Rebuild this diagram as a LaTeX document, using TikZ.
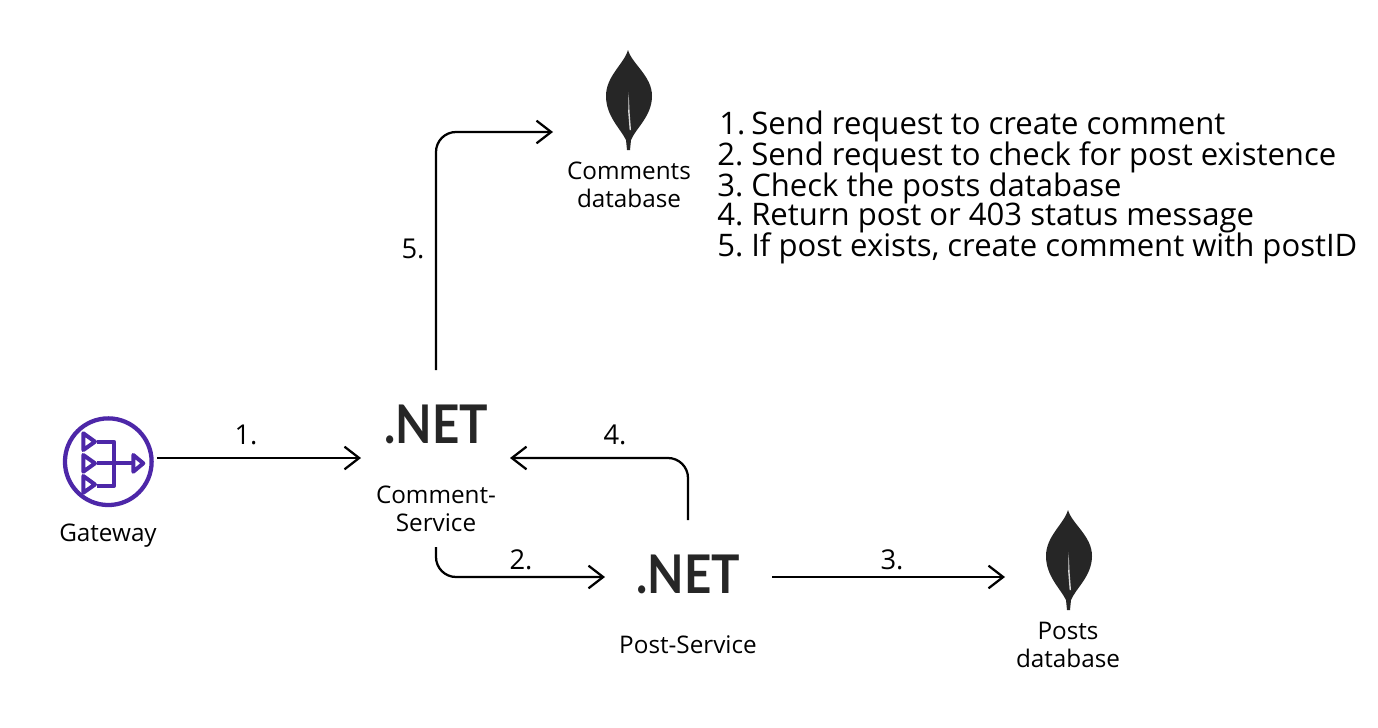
\documentclass[tikz,border=0pt]{standalone}
\usepackage{fontspec}
\usepackage{graphicx}
\setmainfont{Open Sans}
\newfontfamily\netfont{Lato}
\usetikzlibrary{arrows.meta}
\definecolor{gwpurple}{HTML}{4D27A8}
\definecolor{inkdark}{HTML}{262626}
\tikzset{
  x=0.75pt,y=-0.75pt,
  conn/.style={line width=1.7pt,-{Straight Barb[length=11pt,width=17pt,line width=1.7pt]},rounded corners=15pt},
  icon/.style={line width=3pt,gwpurple,line join=round},
  small/.style={font=\fontsize{18.2}{21}\selectfont,align=center,inner sep=0pt},
  step label/.style={font=\fontsize{20.5}{24}\selectfont,inner sep=0pt},
  netlabel/.style={font=\netfont\bfseries\fontsize{40}{40}\selectfont,inkdark,inner sep=0pt,minimum width=77pt,minimum height=32pt},
  pics/leaf/.style={code={
    \fill[inkdark] (0,0) .. controls (4,14) and (24,26) .. (24,46)
       .. controls (24,66) and (8,78) .. (3,90) -- (2,100) -- (-1,100) -- (-2,90)
       .. controls (-8,78) and (-22,66) .. (-22,46)
       .. controls (-22,26) and (-4,14) .. (0,0) -- cycle;
    \fill[white!85!black] (0.6,42) -- (1.6,62) -- (3,80) -- (1.6,80) -- (0.2,62) -- cycle;
  }}
}
\begin{document}
\begin{tikzpicture}
\useasboundingbox (0,0) rectangle (1378,728);
\fill[white] (0,0) rectangle (1378,728);

% gateway
\node[circle,draw=gwpurple,line width=3.2pt,minimum size=65pt,inner sep=0pt] (gw) at (108.3,461.7) {};
\draw[icon] (83.3,433.3) -- (95,441.7) -- (83.3,450) -- cycle;
\draw[icon] (83.3,455) -- (95,463.3) -- (83.3,471.7) -- cycle;
\draw[icon] (83.3,476) -- (95,484.5) -- (83.3,492.7) -- cycle;
\draw[icon] (97.3,441.7) -- (114,441.7) -- (114,486) -- (97.3,486);
\draw[icon] (97.3,463.3) -- (133.3,463.3);
\draw[icon] (133.3,455) -- (143.3,463.3) -- (133.3,471.7) -- cycle;
\node[small] (gwlabel) at (108,536) {Gateway};

% services
\node[netlabel] (cnet) at (436,424) {\scalebox{0.89}[1]{.NET}};
\node[small] (clabel) at (436,509) {Comment-\\Service};
\node[netlabel] (pnet) at (688,574) {\scalebox{0.89}[1]{.NET}};
\node[small] (plabel) at (688,645) {Post-Service};

% databases
\pic (lc) at (628,50) {leaf};
\node[small] (cdb) at (629,185) {Comments\\database};
\pic (lp) at (1068,510) {leaf};
\node[small] (pdb) at (1068,645) {Posts\\database};
\coordinate (cdbin) at (553,132);
\coordinate (pdbin) at (1005,577);

% connectors
\coordinate (gwout) at (157,458);
\coordinate (cin) at (361,458);
\coordinate (cup) at (436,370);
\coordinate (cdown) at (436,547);
\coordinate (pin) at (605,577);
\coordinate (pout) at (772,577);
\coordinate (pup) at (688,520);
\coordinate (cback) at (510,458);
\draw[conn] (gwout) -- (cin);
\draw[conn] (cup) -- (cup |- cdbin) -- (cdbin);
\draw[conn] (cdown) -- (cdown |- pin) -- (pin);
\draw[conn] (pout) -- (pdbin);
\draw[conn] (pup) -- (pup |- cback) -- (cback);

\node[step label] (s1) at (246,435) {1.};
\node[step label] (s2) at (521,560) {2.};
\node[step label] (s3) at (892,560) {3.};
\node[step label] (s4) at (615,435) {4.};
\node[step label] (s5) at (413,249) {5.};

\node[anchor=north west,inner sep=0pt,align=left,font=\fontsize{23.3}{23}\selectfont] (steps) at (717,111)
{\makebox[25.5pt][l]{\hspace{1.5pt}1.}Send request to create comment\\[-1.3pt]
 \makebox[25.5pt][l]{2.}Send request to check for post existence\\[-1.3pt]
 \makebox[25.5pt][l]{3.}Check the posts database\\[-1.3pt]
 \makebox[25.5pt][l]{4.}Return post or 403 status message\\[-1.3pt]
 \makebox[25.5pt][l]{5.}If post exists, create comment with postID};
\end{tikzpicture}
\end{document}
